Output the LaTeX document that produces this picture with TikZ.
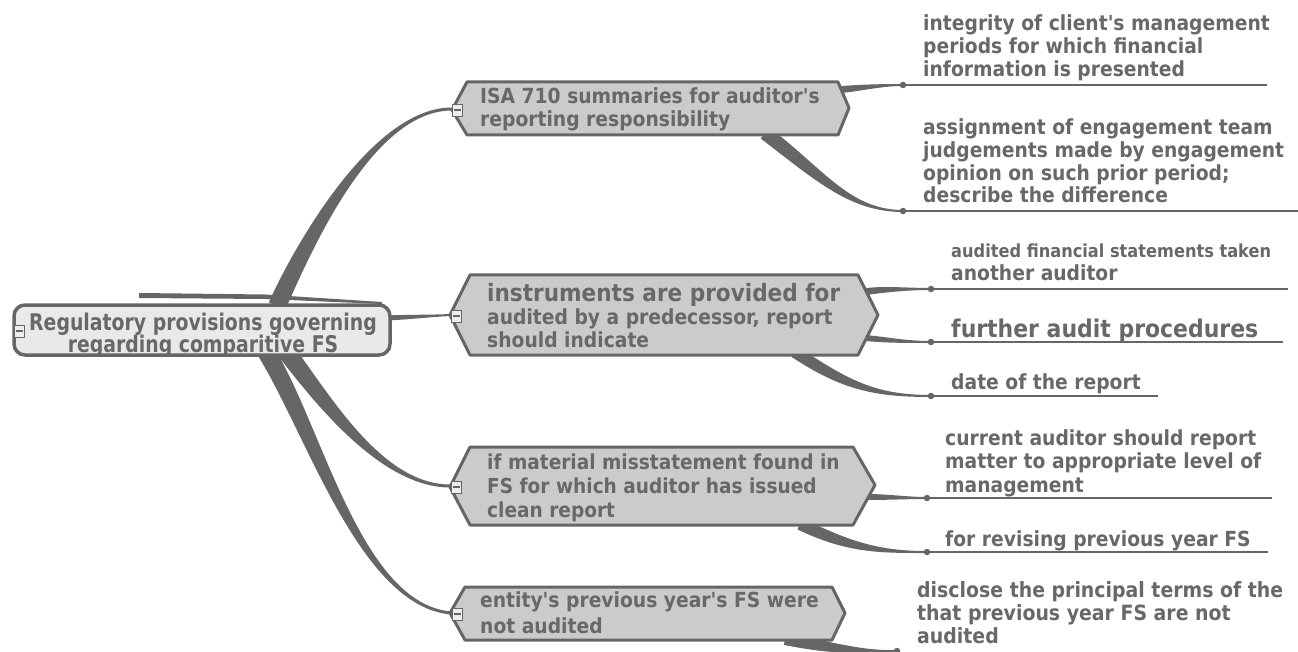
\documentclass[tikz,border=0pt]{standalone}
\usepackage{fontspec}
\usetikzlibrary{calc}
\newfontfamily\tf[FakeStretch=0.9]{DejaVu Sans}
\newfontfamily\tfr[FakeStretch=0.82]{DejaVu Sans}
\definecolor{lc}{HTML}{666666}
\definecolor{tg}{HTML}{686868}
\definecolor{bf}{HTML}{CBCBCD}
\definecolor{rf}{HTML}{E9E9EB}
\definecolor{mb}{HTML}{EEEEEE}
\newcommand\lfont{\tf\bfseries\fontsize{20.8}{23}\selectfont\lineskiplimit=-30pt\relax}
\newcommand\rfont{\tfr\bfseries\fontsize{23}{21.5}\selectfont\lineskiplimit=-30pt\relax}
% tapered connector: #1 start, #2 c1, #3 c2, #4 end, #5 half width start, #6 half width end
\newcommand\taper[6]{%
  \path ($(#1)!#5!90:(#2)$) coordinate (ta0) ($(#1)!#5!-90:(#2)$) coordinate (tb0)
        ($(#4)!#6!-90:(#3)$) coordinate (ta3) ($(#4)!#6!90:(#3)$) coordinate (tb3);
  \path ($(#2)+(ta0)-(#1)$) coordinate (ta1) ($(#2)+(tb0)-(#1)$) coordinate (tb1)
        ($(#3)+(ta3)-(#4)$) coordinate (ta2) ($(#3)+(tb3)-(#4)$) coordinate (tb2);
  \fill[conn] (ta0) .. controls (ta1) and (ta2) .. (ta3) -- (tb3) .. controls (tb2) and (tb1) .. (tb0) -- cycle;}
\begin{document}
\begin{tikzpicture}[x=1pt,y=-1pt,
  conn/.style={fill=lc},
  leaf/.style={anchor=base west, align=left, inner sep=0pt, text=tg, font=\lfont},
  btext/.style={anchor=base west, align=left, inner sep=0pt, text=tg, font=\lfont},
  hexa/.style={draw=lc, fill=bf, line width=3pt, line join=round},
  rootbox/.style={draw=lc, fill=rf, line width=3.5pt, rounded corners=11pt, minimum width=376pt, minimum height=50pt, inner sep=0pt},
  roottext/.style={anchor=base, align=center, inner sep=0pt, text=tg, font=\rfont},
  ul/.style={draw=lc, line width=1.8pt},
  dotn/.style={circle, fill=lc, inner sep=0pt, minimum size=6.5pt},
  minusbox/.style={draw=lc, fill=mb, line width=0.9pt, minimum width=10pt, minimum height=12pt, inner sep=0pt},
  minusline/.style={draw=lc, line width=1.2pt}
]
\useasboundingbox (0,0) rectangle (1298,652);

% ---------- anchor coordinates ----------
\coordinate (rs1) at (277,306);
\coordinate (rs2) at (386,318);
\coordinate (rs3) at (285,350);
\coordinate (rs4) at (265,350);
\coordinate (b1l) at (451,109);
\coordinate (b2l) at (450,315);
\coordinate (b3l) at (450,486);
\coordinate (b4l) at (451,613);
\coordinate (b1a) at (836,90);
\coordinate (b1b) at (765,133);
\coordinate (b2a) at (862,292);
\coordinate (b2b) at (865,338);
\coordinate (b2c) at (795,352);
\coordinate (b3a) at (865,497);
\coordinate (b3b) at (800,524);
\coordinate (b4a) at (785,639);

% ---------- leaf dots ----------
\node[dotn] (d1) at (903,85) {};
\node[dotn] (d2) at (903,211) {};
\node[dotn] (d3) at (931,289) {};
\node[dotn] (d4) at (931,342) {};
\node[dotn] (d5) at (931,396) {};
\node[dotn] (d6) at (927,498) {};
\node[dotn] (d7) at (927,552) {};
\node[dotn] (d8) at (897,651) {};
\coordinate (e1) at (1267,85);
\coordinate (e2) at (1298,211);
\coordinate (e3) at (1288,289);
\coordinate (e4) at (1283,342);
\coordinate (e5) at (1158,396);
\coordinate (e6) at (1272,498);
\coordinate (e7) at (1268,552);

% ---------- root connectors ----------
\taper{rs1}{300,255}{370,110}{b1l}{9pt}{1.5pt}
\taper{rs2}{410,317}{430,316}{b2l}{2.5pt}{1pt}
\taper{rs3}{320,395}{380,486}{b3l}{9pt}{1.5pt}
\taper{rs4}{315,430}{360,605}{b4l}{9pt}{1.5pt}

% ---------- leaf connectors ----------
\taper{b1a}{860,88}{880,85}{d1}{3.5pt}{1pt}
\taper{b1b}{820,175}{850,211}{d2}{7pt}{1pt}
\taper{b2a}{885,289}{905,289}{d3}{3.5pt}{1pt}
\taper{b2b}{888,340}{905,342}{d4}{3pt}{1pt}
\taper{b2c}{845,385}{875,396}{d5}{6pt}{1pt}
\taper{b3a}{890,497}{905,498}{d6}{3pt}{1pt}
\taper{b3b}{850,548}{880,552}{d7}{6pt}{1pt}
\taper{b4a}{840,650}{865,652}{d8}{6pt}{1pt}

% underlines
\draw[ul] (d1.center) -- (e1);
\draw[ul] (d2.center) -- (e2);
\draw[ul] (d3.center) -- (e3);
\draw[ul] (d4.center) -- (e4);
\draw[ul] (d5.center) -- (e5);
\draw[ul] (d6.center) -- (e6);
\draw[ul] (d7.center) -- (e7);

% ---------- root ----------
\fill[lc] (139,293) -- (265,294.5) -- (382,302) -- (382,304) -- (265,299) -- (139,298) -- cycle;
\node[rootbox] (root) at (202,330) {};
\node[roottext] (rt) at (203,352) {Regulatory provisions governing\\regarding comparitive FS};
\node[minusbox] (m0) at (19,331) {};
\draw[minusline] ($(m0.center)+(-3.5,0)$) -- ($(m0.center)+(3.5,0)$);

% ---------- branch shapes ----------
\draw[hexa] (452,110) -- (467,82) -- (838,82) -- (849,108) -- (838,135) -- (467,135) -- cycle;
\draw[hexa] (450,315) -- (470,275) -- (858,275) -- (878,315) -- (858,355) -- (470,355) -- cycle;
\draw[hexa] (450,487) -- (470,447) -- (853,447) -- (875,485) -- (853,525) -- (470,525) -- cycle;
\draw[hexa] (450,613) -- (465,587) -- (832,587) -- (845,613) -- (832,640) -- (465,640) -- cycle;

\node[btext] (b1) at (480,127) {ISA 710 summaries for auditor's\\reporting responsibility};
\node[btext] (b2) at (487,347) {{\fontsize{24}{23}\selectfont instruments are provided for}\\audited by a predecessor, report\\should indicate};
\node[btext, font=\tf\bfseries\fontsize{20.6}{24}\selectfont] (b3) at (487,517) {if material misstatement found in\\FS for which auditor has issued\\clean report};
\node[btext, font=\tf\bfseries\fontsize{20.8}{26}\selectfont] (b4) at (480,633) {entity's previous year's FS were\\not audited};

\node[minusbox] (m1) at (457,110) {};
\node[minusbox] (m2) at (456,316) {};
\node[minusbox] (m3) at (456,487) {};
\node[minusbox] (m4) at (457,614) {};
\foreach \m in {m1,m2,m3,m4}{\draw[minusline] ($(\m.center)+(-3.5,0)$) -- ($(\m.center)+(3.5,0)$);}

% ---------- leaves ----------
\node[leaf] (l1) at (923,77) {integrity of client's management\\periods for which financial\\information is presented};
\node[leaf, font=\tf\bfseries\fontsize{20.8}{22.7}\selectfont] (l2) at (923,203) {assignment of engagement team\\judgements made by engagement\\opinion on such prior period;\\describe the difference};
\node[leaf] (l3) at (951,280) {{\fontsize{18}{23}\selectfont audited financial statements taken}\\another auditor};
\node[leaf, font=\tf\bfseries\fontsize{24.4}{23}\selectfont] (l4) at (951,337) {further audit procedures};
\node[leaf] (l5) at (951,389) {date of the report};
\node[leaf, font=\tf\bfseries\fontsize{20.8}{23.5}\selectfont] (l6) at (945,492) {current auditor should report\\matter to appropriate level of\\management};
\node[leaf] (l7) at (945,546) {for revising previous year FS};
\node[leaf, font=\tf\bfseries\fontsize{21}{23}\selectfont] (l8) at (917,643) {disclose the principal terms of the\\that previous year FS are not\\audited};
\end{tikzpicture}
\end{document}
